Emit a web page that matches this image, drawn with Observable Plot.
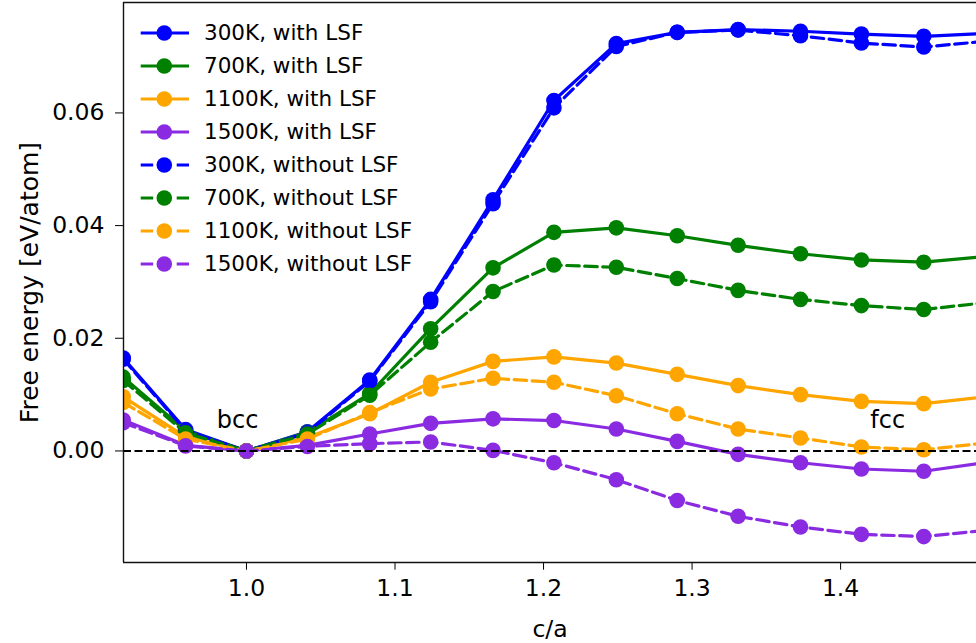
<!DOCTYPE html>
<html>
<head>
<meta charset="utf-8">
<script src="https://cdn.jsdelivr.net/npm/d3@7"></script>
<script src="https://cdn.jsdelivr.net/npm/@observablehq/plot@0.6"></script>
<style>
html, body { margin: 0; padding: 0; background: #fff; overflow: hidden; }
#wrap { position: relative; width: 976px; height: 643px; font-family: "DejaVu Sans", sans-serif; }
#legend { position: absolute; left: 140px; top: 16px; }
.row { display: flex; align-items: center; height: 33px; font-size: 21.5px; color: #000; white-space: nowrap; }
.row svg { margin-right: 14px; }
</style>
</head>
<body>
<div id="wrap"><div id="chart"></div><div id="legend"></div></div>
<script>
// c/a values (x positions of the computed points)
const caOverA = [0.917, 0.959, 1.0, 1.041, 1.083, 1.124, 1.166, 1.207, 1.249, 1.290, 1.331, 1.373, 1.414, 1.456, 1.497];

// Free energy [eV/atom]
const withLSF300  = [0.0165, 0.0038, 0, 0.0034, 0.0126, 0.0269, 0.0446, 0.0622, 0.0723, 0.0743, 0.0748, 0.0745, 0.0740, 0.0736, 0.0741];
const withLSF700  = [0.0131, 0.0036, 0, 0.0033, 0.0102, 0.0217, 0.0325, 0.0388, 0.0396, 0.0382, 0.0365, 0.0350, 0.0339, 0.0335, 0.0345];
const withLSF1100 = [0.0096, 0.0025, 0, 0.0024, 0.0066, 0.0122, 0.0159, 0.0167, 0.0156, 0.0136, 0.0116, 0.0100, 0.0088, 0.0084, 0.0096];
const withLSF1500 = [0.0055, 0.0010, 0, 0.0010, 0.0030, 0.0049, 0.0057, 0.0054, 0.0039, 0.0017, -0.0006, -0.0021, -0.0032, -0.0036, -0.0021];
const noLSF300    = [0.0163, 0.0036, 0, 0.0032, 0.0124, 0.0265, 0.0439, 0.0609, 0.0718, 0.0743, 0.0747, 0.0737, 0.0724, 0.0717, 0.0727];
const noLSF700    = [0.0125, 0.0032, 0, 0.0030, 0.0099, 0.0193, 0.0283, 0.0330, 0.0326, 0.0306, 0.0285, 0.0269, 0.0258, 0.0251, 0.0263];
const noLSF1100   = [0.0086, 0.0021, 0, 0.0021, 0.0068, 0.0110, 0.0129, 0.0122, 0.0098, 0.0066, 0.0039, 0.0023, 0.0007, 0.0002, 0.0014];
const noLSF1500   = [0.0050, 0.0009, 0, 0.0008, 0.0013, 0.0016, 0.0001, -0.0021, -0.0051, -0.0088, -0.0116, -0.0135, -0.0148, -0.0152, -0.0141];

const seriesNames = [
  "300K, with LSF", "700K, with LSF", "1100K, with LSF", "1500K, with LSF",
  "300K, without LSF", "700K, without LSF", "1100K, without LSF", "1500K, without LSF"
];
const seriesValues = [withLSF300, withLSF700, withLSF1100, withLSF1500, noLSF300, noLSF700, noLSF1100, noLSF1500];
const seriesColors = ["blue", "green", "orange", "blueviolet", "blue", "green", "orange", "blueviolet"];
const seriesDashed = [false, false, false, false, true, true, true, true];

const xTicks = [1.0, 1.1, 1.2, 1.3, 1.4];
const yTicks = [0.00, 0.02, 0.04, 0.06];
const xDomain = [0.9172, 1.4915];
const yDomain = [-0.0198, 0.0796];
const annotations = [
  {x: 0.98, y: 0.004, text: "bcc"},
  {x: 1.42, y: 0.004, text: "fcc"}
];
const xLabel = "c/a";
const yLabel = "Free energy [eV/atom]";

const DASH = "12.5,5.5";
const LW = 3.2;
const R = 7.8;

const rows = seriesNames.flatMap((name, i) =>
  caOverA.map((x, j) => ({series: name, x, y: seriesValues[i][j]}))
);

const marks = [];
seriesNames.forEach((name, i) => {
  const d = rows.filter(r => r.series === name);
  marks.push(Plot.line(d, {
    x: "x", y: "y", stroke: seriesColors[i], strokeWidth: LW,
    strokeDasharray: seriesDashed[i] ? DASH : null, clip: true
  }));
  marks.push(Plot.dot(d, {x: "x", y: "y", r: R, fill: seriesColors[i], clip: true}));
});
marks.push(Plot.ruleY([0], {stroke: "black", strokeWidth: 2, strokeDasharray: "8,3.5"}));
marks.push(Plot.text(annotations, {
  x: "x", y: "y", text: "text", textAnchor: "start", lineAnchor: "bottom",
  fontSize: 24, fill: "black"
}));
// frame: left, top, bottom spines
marks.push(Plot.ruleX([xDomain[0]], {stroke: "#111", strokeWidth: 1.4}));
marks.push(Plot.ruleY([yDomain[0], yDomain[1]], {stroke: "#111", strokeWidth: 1.4}));
// axis titles
marks.push(Plot.text([xLabel], {
  frameAnchor: "bottom", dy: 74, lineAnchor: "bottom", fontSize: 23.5, fill: "black", text: d => d
}));
marks.push(Plot.text([yLabel], {
  frameAnchor: "left", dx: -86, rotate: -90, lineAnchor: "bottom", textAnchor: "middle",
  fontSize: 25, fill: "black", text: d => d
}));

const chart = Plot.plot({
  width: 976,
  height: 643,
  marginLeft: 123,
  marginRight: 0,
  marginTop: 2,
  marginBottom: 81,
  style: {fontFamily: "DejaVu Sans, sans-serif", fontSize: "23.5px", color: "black", background: "white", overflow: "visible"},
  x: {domain: xDomain, ticks: xTicks, tickFormat: d3.format(".1f"), tickSize: 7.7, tickPadding: 9, label: null},
  y: {domain: yDomain, ticks: yTicks, tickFormat: d3.format(".2f"), tickSize: 8, tickPadding: 11, label: null},
  marks
});
document.getElementById("chart").appendChild(chart);

// legend (inside the plot area, upper left)
const legend = document.getElementById("legend");
seriesNames.forEach((name, i) => {
  const row = document.createElement("div");
  row.className = "row";
  const ns = "http://www.w3.org/2000/svg";
  const svg = document.createElementNS(ns, "svg");
  svg.setAttribute("width", 50);
  svg.setAttribute("height", 20);
  const line = document.createElementNS(ns, "line");
  line.setAttribute("x1", 0.7); line.setAttribute("x2", 49);
  line.setAttribute("y1", 10); line.setAttribute("y2", 10);
  line.setAttribute("stroke", seriesColors[i]);
  line.setAttribute("stroke-width", LW);
  if (seriesDashed[i]) line.setAttribute("stroke-dasharray", DASH);
  const c = document.createElementNS(ns, "circle");
  c.setAttribute("cx", 24.3); c.setAttribute("cy", 10); c.setAttribute("r", R);
  c.setAttribute("fill", seriesColors[i]);
  svg.appendChild(line); svg.appendChild(c);
  const span = document.createElement("span");
  span.textContent = name;
  row.appendChild(svg); row.appendChild(span);
  legend.appendChild(row);
});
</script>
</body>
</html>
